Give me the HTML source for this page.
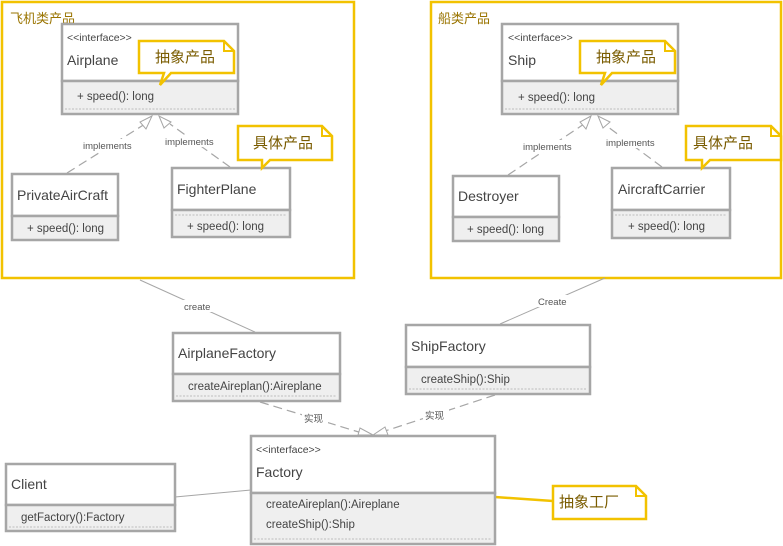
<!DOCTYPE html>
<html><head><meta charset="utf-8"><style>
html,body{margin:0;padding:0;background:#fff}
svg{display:block}
text{font-family:"Liberation Sans","Noto Sans CJK SC",sans-serif}
.b{fill:#fff;stroke:#a6a6a6;stroke-width:2.5}
.m{fill:#efefef;stroke:#a6a6a6;stroke-width:2.5}
.d{stroke:#bdbdbd;stroke-width:1;stroke-dasharray:2,1.5;fill:none}
.t{font-size:14px;fill:#444}
.s{font-size:11.5px;fill:#444}
.st{font-size:10.5px;fill:#444}
.l{font-size:9.5px;fill:#555}
.n{fill:#fff;stroke:#f2c200;stroke-width:2.5}
.nt{font-size:15px;fill:#7a5c00}
.g{fill:none;stroke:#f2c200;stroke-width:2.5}
.gt{font-size:13px;fill:#9a7400}
.ln{stroke:#a6a6a6;stroke-width:1;fill:none}
.dl{stroke:#a6a6a6;stroke-width:1.2;fill:none;stroke-dasharray:9,5}
.ar{fill:#fff;stroke:#a6a6a6;stroke-width:1}
</style></head><body>
<svg width="783" height="546" viewBox="0 0 783 546" xmlns="http://www.w3.org/2000/svg">
<rect class="g" x="2" y="2" width="352" height="276"/>
<text class="gt" x="10" y="23">飞机类产品</text>
<rect class="g" x="431" y="2" width="350" height="276"/>
<text class="gt" x="438" y="23">船类产品</text>

<line class="ln" x1="140" y1="280" x2="255" y2="332"/>
<rect x="180" y="300" width="34" height="12" fill="#fff"/>
<text class="l" x="184" y="310">create</text>
<line class="ln" x1="605" y1="278" x2="500" y2="324"/>
<rect x="536" y="295" width="34" height="12" fill="#fff"/>
<text class="l" x="538" y="305">Create</text>
<line class="ln" x1="175" y1="497" x2="251" y2="490"/>
<line x1="495" y1="497" x2="553" y2="501" stroke="#f2c200" stroke-width="2.5"/>

<line class="dl" x1="260" y1="402" x2="362" y2="433"/>
<line class="dl" x1="495" y1="395" x2="382" y2="432"/>
<rect x="302" y="411" width="26" height="13" fill="#fff"/>
<text class="l" x="304" y="422">实现</text>
<rect x="423" y="408" width="26" height="13" fill="#fff"/>
<text class="l" x="425" y="419">实现</text>
<polygon class="ar" points="373,435 360,428 358,435"/>
<polygon class="ar" points="373,435 385,427 388,435"/>

<line class="dl" x1="67" y1="173" x2="145" y2="124"/>
<line class="dl" x1="230" y1="167" x2="170" y2="124"/>
<polygon class="ar" points="152,116 140,122 146,129"/>
<polygon class="ar" points="159,116 164,128 171,122"/>
<rect x="82" y="139" width="52" height="12" fill="#fff"/>
<text class="l" x="83" y="149">implements</text>
<rect x="164" y="135" width="52" height="12" fill="#fff"/>
<text class="l" x="165" y="145">implements</text>

<line class="dl" x1="508" y1="175" x2="584" y2="124"/>
<line class="dl" x1="662" y1="167" x2="604" y2="124"/>
<polygon class="ar" points="591,116 580,122 586,129"/>
<polygon class="ar" points="598,116 603,128 610,122"/>
<rect x="522" y="140" width="52" height="12" fill="#fff"/>
<text class="l" x="523" y="150">implements</text>
<rect x="605" y="136" width="52" height="12" fill="#fff"/>
<text class="l" x="606" y="146">implements</text>

<rect class="b" x="62" y="24" width="176" height="57"/>
<rect class="m" x="62" y="81" width="176" height="33"/>
<line class="d" x1="65" y1="109" x2="235" y2="109"/>
<text class="st" x="67" y="41">&lt;&lt;interface&gt;&gt;</text>
<text class="t" x="67" y="65">Airplane</text>
<text class="s" x="77" y="100">+ speed(): long</text>

<rect class="b" x="12" y="174" width="106" height="42"/>
<rect class="m" x="12" y="216" width="106" height="24"/>
<text class="t" x="17" y="200">PrivateAirCraft</text>
<text class="s" x="27" y="232">+ speed(): long</text>

<rect class="b" x="172" y="168" width="118" height="42"/>
<rect class="m" x="172" y="210" width="118" height="27"/>
<line class="d" x1="175" y1="215" x2="287" y2="215"/>
<text class="t" x="177" y="194">FighterPlane</text>
<text class="s" x="187" y="230">+ speed(): long</text>

<rect class="b" x="502" y="24" width="176" height="57"/>
<rect class="m" x="502" y="81" width="176" height="33"/>
<line class="d" x1="505" y1="109" x2="675" y2="109"/>
<text class="st" x="508" y="41">&lt;&lt;interface&gt;&gt;</text>
<text class="t" x="508" y="65">Ship</text>
<text class="s" x="518" y="101">+ speed(): long</text>

<rect class="b" x="453" y="176" width="106" height="41"/>
<rect class="m" x="453" y="217" width="106" height="24"/>
<text class="t" x="458" y="201">Destroyer</text>
<text class="s" x="467" y="233">+ speed(): long</text>

<rect class="b" x="612" y="168" width="118" height="42"/>
<rect class="m" x="612" y="210" width="118" height="28"/>
<line class="d" x1="615" y1="215" x2="727" y2="215"/>
<text class="t" x="618" y="194">AircraftCarrier</text>
<text class="s" x="628" y="230">+ speed(): long</text>

<rect class="b" x="173" y="333" width="167" height="41"/>
<rect class="m" x="173" y="374" width="167" height="27"/>
<line class="d" x1="176" y1="396" x2="337" y2="396"/>
<text class="t" x="178" y="358">AirplaneFactory</text>
<text class="s" x="188" y="390">createAireplan():Aireplane</text>

<rect class="b" x="406" y="325" width="184" height="42"/>
<rect class="m" x="406" y="367" width="184" height="27"/>
<line class="d" x1="409" y1="389" x2="587" y2="389"/>
<text class="t" x="411" y="351">ShipFactory</text>
<text class="s" x="421" y="383">createShip():Ship</text>

<rect class="b" x="251" y="436" width="244" height="57"/>
<rect class="m" x="251" y="493" width="244" height="51"/>
<line class="d" x1="254" y1="539" x2="492" y2="539"/>
<text class="st" x="256" y="453">&lt;&lt;interface&gt;&gt;</text>
<text class="t" x="256" y="477">Factory</text>
<text class="s" x="266" y="508">createAireplan():Aireplane</text>
<text class="s" x="266" y="528">createShip():Ship</text>

<rect class="b" x="6" y="464" width="169" height="41"/>
<rect class="m" x="6" y="505" width="169" height="26"/>
<line class="d" x1="9" y1="527" x2="172" y2="527"/>
<text class="t" x="11" y="489">Client</text>
<text class="s" x="21" y="521">getFactory():Factory</text>

<path class="n" d="M139,41 H224 L234,51 V73 H171 L160,85 L164,73 H139 Z"/>
<path d="M224,41 V51 H234" fill="none" stroke="#f2c200" stroke-width="2"/>
<text class="nt" x="155" y="62">抽象产品</text>

<path class="n" d="M238,126 H322 L332,136 V160 H270 L262,168 L262,160 H238 Z"/>
<path d="M322,126 V136 H332" fill="none" stroke="#f2c200" stroke-width="2"/>
<text class="nt" x="253" y="148">具体产品</text>

<path class="n" d="M580,41 H665 L675,51 V73 H612 L601,85 L605,73 H580 Z"/>
<path d="M665,41 V51 H675" fill="none" stroke="#f2c200" stroke-width="2"/>
<text class="nt" x="596" y="62">抽象产品</text>

<path class="n" d="M686,126 H771 L781,136 V160 H710 L702,168 L702,160 H686 Z"/>
<path d="M771,126 V136 H781" fill="none" stroke="#f2c200" stroke-width="2"/>
<text class="nt" x="693" y="148">具体产品</text>

<path class="n" d="M553,486 H636 L646,496 V519 H553 Z"/>
<path d="M636,486 V496 H646" fill="none" stroke="#f2c200" stroke-width="2"/>
<text class="nt" x="559" y="507">抽象工厂</text>
</svg>
</body></html>
